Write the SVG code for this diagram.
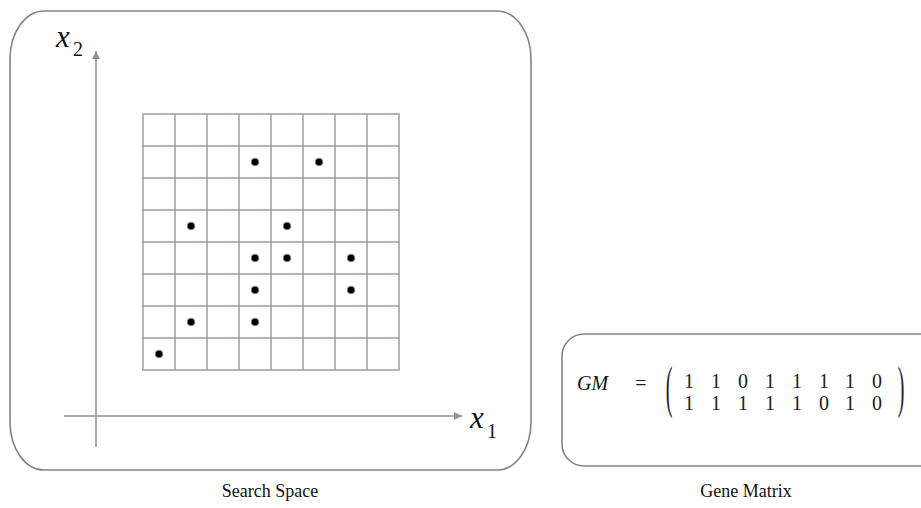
<svg xmlns="http://www.w3.org/2000/svg" width="921" height="508" viewBox="0 0 921 508">
  <style>
    .frame { fill: #ffffff; stroke: #8c7f89; stroke-width: 1.6; }
    .axis { stroke: #9a8e97; stroke-width: 1.6; fill: none; }
    .grid { stroke: #a59aa2; stroke-width: 1.5; fill: none; }
    .dot { fill: #000000; stroke: #8c7f89; stroke-width: 1; }
    text { font-family: "Liberation Serif", "DejaVu Serif", serif; }
    .caption { font-size: 18px; fill: #111111; text-anchor: middle; }
    .var { font-style: italic; fill: #111111; }
    .sub { fill: #111111; }
    .math { font-size: 20px; fill: #222222; text-anchor: middle; }
    .brace { font-size: 20px; fill: #222222; text-anchor: middle; font-weight: normal; }
  </style>
  <defs>
    <marker id="arrow" viewBox="0 0 10 10" refX="10" refY="5" markerWidth="10" markerHeight="8" markerUnits="userSpaceOnUse" orient="auto">
      <path d="M0,0 L10,5 L0,10 z" fill="#9a8e97"/>
    </marker>
  </defs>

  <!-- Search space panel -->
  <g id="search-space">
    <rect class="frame" x="10" y="11" width="521" height="459" rx="34" ry="48"/>
    <g id="grid">
      <rect class="grid" x="143" y="114" width="256" height="256"/>
      <path class="grid" d="M175,114V370 M207,114V370 M239,114V370 M271,114V370 M303,114V370 M335,114V370 M367,114V370
                            M143,146H399 M143,178H399 M143,210H399 M143,242H399 M143,274H399 M143,306H399 M143,338H399"/>
    </g>
    <g id="points">
      <circle class="dot" cx="255" cy="162" r="3.8"/>
      <circle class="dot" cx="319" cy="162" r="3.8"/>
      <circle class="dot" cx="191" cy="226" r="3.8"/>
      <circle class="dot" cx="287" cy="226" r="3.8"/>
      <circle class="dot" cx="255" cy="258" r="3.8"/>
      <circle class="dot" cx="287" cy="258" r="3.8"/>
      <circle class="dot" cx="351" cy="258" r="3.8"/>
      <circle class="dot" cx="255" cy="290" r="3.8"/>
      <circle class="dot" cx="351" cy="290" r="3.8"/>
      <circle class="dot" cx="191" cy="322" r="3.8"/>
      <circle class="dot" cx="255" cy="322" r="3.8"/>
      <circle class="dot" cx="159" cy="354" r="3.8"/>
    </g>
    <text class="var" x="56" y="47" font-size="31">x</text>
    <text class="sub" x="73" y="56" font-size="20">2</text>
    <text class="var" x="470" y="428" font-size="31">x</text>
    <text class="sub" x="487" y="438" font-size="20">1</text>
  </g>

  <!-- Axes -->
  <g id="connectors">
    <line class="axis" x1="96" y1="447" x2="96" y2="51" marker-end="url(#arrow)"/>
    <line class="axis" x1="64" y1="416" x2="462" y2="416" marker-end="url(#arrow)"/>
  </g>

  <!-- Gene matrix panel -->
  <g id="gene-matrix">
    <rect class="frame" x="562" y="334" width="380" height="132" rx="22" ry="22"/>
    <text class="var" x="577" y="390" font-size="20">GM</text>
    <text class="math" x="641" y="390" font-size="23">=</text>
    <text class="brace" x="669" y="0" transform="translate(0,406) scale(1,2.8)">(</text>
    <text class="brace" x="901" y="0" transform="translate(0,406) scale(1,2.8)">)</text>
    <text class="math" x="689" y="388">1</text>
    <text class="math" x="716" y="388">1</text>
    <text class="math" x="743" y="388">0</text>
    <text class="math" x="770" y="388">1</text>
    <text class="math" x="797" y="388">1</text>
    <text class="math" x="824" y="388">1</text>
    <text class="math" x="850" y="388">1</text>
    <text class="math" x="877" y="388">0</text>
    <text class="math" x="689" y="410">1</text>
    <text class="math" x="716" y="410">1</text>
    <text class="math" x="743" y="410">1</text>
    <text class="math" x="770" y="410">1</text>
    <text class="math" x="797" y="410">1</text>
    <text class="math" x="824" y="410">0</text>
    <text class="math" x="850" y="410">1</text>
    <text class="math" x="877" y="410">0</text>
  </g>

  <!-- Captions -->
  <text class="caption" x="270" y="497">Search Space</text>
  <text class="caption" x="746" y="497">Gene Matrix</text>
</svg>
